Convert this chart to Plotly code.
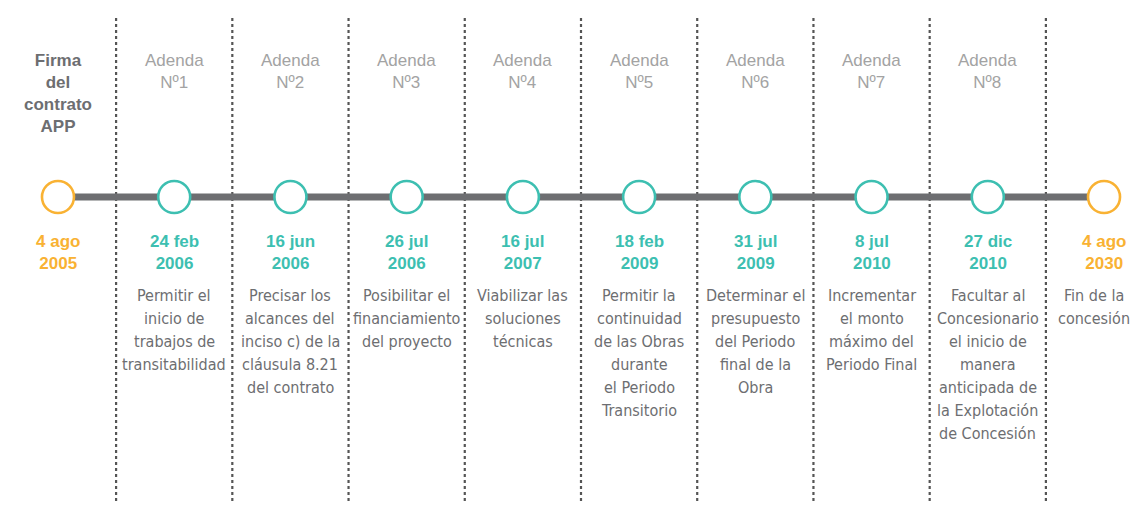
import plotly.graph_objects as go

headers = ["Firma<br>del<br>contrato<br>APP", "Adenda<br>Nº1", "Adenda<br>Nº2", "Adenda<br>Nº3", "Adenda<br>Nº4",
           "Adenda<br>Nº5", "Adenda<br>Nº6", "Adenda<br>Nº7", "Adenda<br>Nº8", ""]
dates = ["4 ago<br>2005", "24 feb<br>2006", "16 jun<br>2006", "26 jul<br>2006", "16 jul<br>2007",
         "18 feb<br>2009", "31 jul<br>2009", "8 jul<br>2010", "27 dic<br>2010", "4 ago<br>2030"]
descriptions = [
    "",
    "Permitir el<br>inicio de<br>trabajos de<br>transitabilidad",
    "Precisar los<br>alcances del<br>inciso c) de la<br>cláusula 8.21<br>del contrato",
    "Posibilitar el<br>financiamiento<br>del proyecto",
    "Viabilizar las<br>soluciones<br>técnicas",
    "Permitir la<br>continuidad<br>de las Obras<br>durante<br>el Periodo<br>Transitorio",
    "Determinar el<br>presupuesto<br>del Periodo<br>final de la<br>Obra",
    "Incrementar<br>el monto<br>máximo del<br>Periodo Final",
    "Facultar al<br>Concesionario<br>el inicio de<br>manera<br>anticipada de<br>la Explotación<br>de Concesión",
    "Fin de la<br>concesión",
]
kinds = ["hito", "adenda", "adenda", "adenda", "adenda", "adenda", "adenda", "adenda", "adenda", "hito"]

ORANGE = "#F9B233"
TEAL = "#3DBFB1"
GRAY = "#6D6E71"
LIGHT = "#A3A3A3"
DESC = "#6D6E71"
DESC_FONT = "DejaVu Sans Condensed, Liberation Sans, Arial"

n = len(dates)
xs = list(range(n))
LINE_Y = 197

fig = go.Figure()
fig.add_trace(go.Scatter(x=xs, y=[LINE_Y] * n, mode="lines",
                         line=dict(color=GRAY, width=7), hoverinfo="skip", showlegend=False))
colors = [ORANGE if k == "hito" else TEAL for k in kinds]
fig.add_trace(go.Scatter(x=xs, y=[LINE_Y] * n, mode="markers",
                         marker=dict(size=32, color="white", line=dict(color=colors, width=2.6)),
                         hoverinfo="skip", showlegend=False))

shapes = []
for i in range(n - 1):
    shapes.append(dict(type="line", xref="x", yref="y", x0=i + 0.5, x1=i + 0.5, y0=18, y1=502,
                       line=dict(color="#555555", width=2.2, dash="dot"), layer="below"))

annotations = []
for i in range(n):
    if headers[i]:
        if i == 0:
            f = dict(family="Liberation Sans, Arial", size=17, color=GRAY, weight="bold")
            annotations.append(dict(x=i, y=49, xref="x", yref="y", text="<b>" + headers[i] + "</b>",
                                    showarrow=False, yanchor="top", xanchor="center", font=f))
        else:
            f = dict(family="Liberation Sans, Arial", size=17, color=LIGHT)
            annotations.append(dict(x=i, y=49, xref="x", yref="y", text=headers[i],
                                    showarrow=False, yanchor="top", xanchor="center", font=f))
    annotations.append(dict(x=i, y=230, xref="x", yref="y", text="<b>" + dates[i] + "</b>",
                            showarrow=False, yanchor="top", xanchor="center",
                            font=dict(family="Liberation Sans, Arial", size=17, color=colors[i])))
    if descriptions[i]:
        shift = -10 if i == n - 1 else 0
        for k, line in enumerate(descriptions[i].split("<br>")):
            annotations.append(dict(x=i, y=295 + 23 * k, xref="x", yref="y", text=line,
                                    showarrow=False, yanchor="middle", xanchor="center", xshift=shift,
                                    font=dict(family=DESC_FONT, size=16, color=DESC)))

fig.update_layout(
    width=1131, height=494,
    margin=dict(l=0, r=0, t=0, b=0),
    paper_bgcolor="white", plot_bgcolor="white",
    xaxis=dict(range=[-0.430, 9.301], visible=False, fixedrange=True),
    yaxis=dict(range=[502, 8], visible=False, fixedrange=True),
    shapes=shapes, annotations=annotations,
)
fig.write_html("out.html")
